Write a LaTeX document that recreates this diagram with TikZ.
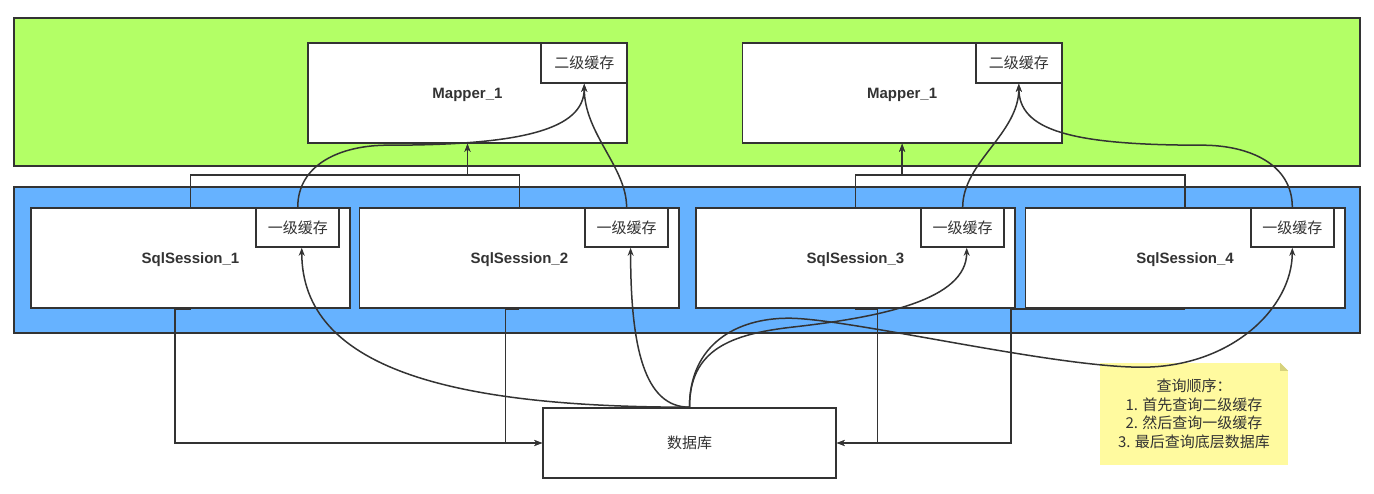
\documentclass[tikz,border=0pt]{standalone}
\usepackage{fontspec}
\setmainfont{Liberation Sans}
\newfontfamily\cjk{Noto Sans CJK SC}
\usepackage{tikz}
\usetikzlibrary{positioning}
\usetikzlibrary{calc}
\usetikzlibrary{arrows.meta}
\definecolor{linegray}{HTML}{333333}
\definecolor{mappergreen}{HTML}{B3FF66}
\definecolor{sessionblue}{HTML}{66B2FF}
\definecolor{notefill}{HTML}{FFFA9F}
\definecolor{foldfill}{HTML}{D6D27C}
\tikzstyle{layer} = [draw=linegray, line width=1.6pt, rectangle, minimum width=1346pt]
\tikzstyle{block} = [draw=linegray, fill=white, line width=1.6pt, rectangle, minimum height=100pt, minimum width=319.5pt, text=linegray, text height=11pt, text depth=0pt, font=\fontsize{15}{18}\selectfont\bfseries]
\tikzstyle{cache} = [draw=linegray, fill=white, line width=1.6pt, rectangle, minimum height=39pt, minimum width=83pt, anchor=north east, text=linegray, font=\fontsize{15}{18}\selectfont\cjk]
\tikzstyle{note} = [fill=notefill, rectangle, minimum width=188pt, minimum height=102pt, align=center, text=linegray, font=\fontsize{15}{18.5}\selectfont\cjk]
\tikzstyle{line} = [draw=linegray, line width=1.5pt]
\tikzstyle{arrow} = [line, -{Stealth[length=8pt,width=6pt]}]

\begin{document}
\begin{tikzpicture}[x=1pt,y=-1pt]
    \useasboundingbox (0,0) rectangle (1374,494);
    \node [layer, fill=mappergreen, minimum height=148pt] (mapperlayer) at (687,92) {};
    \node [layer, fill=sessionblue, minimum height=146pt] (sessionlayer) at (687,260) {};

    \node [block] (m1) at (467.5,93) {Mapper\_1};
    \node [block, right=113.5pt of m1] (m2) {Mapper\_1};
    \node [cache, minimum width=86pt, minimum height=40pt] (k1) at (m1.north east) {二级缓存};
    \node [cache, minimum width=86pt, minimum height=40pt] (k2) at (m2.north east) {二级缓存};

    \node [block] (s1) at (190.5,258) {SqlSession\_1};
    \node [block, right=7.75pt of s1] (s2) {SqlSession\_2};
    \node [block, right=15pt of s2] (s3) {SqlSession\_3};
    \node [block, right=8.5pt of s3] (s4) {SqlSession\_4};
    \node [cache] (c1) at ([xshift=-11]s1.north east) {一级缓存};
    \node [cache] (c2) at ([xshift=-11]s2.north east) {一级缓存};
    \node [cache] (c3) at ([xshift=-11]s3.north east) {一级缓存};
    \node [cache] (c4) at ([xshift=-11]s4.north east) {一级缓存};

    \node [block, minimum width=293pt, minimum height=70pt, text height=, text depth=, font=\fontsize{15}{18}\selectfont\cjk] (db) at (689.5,443) {数据库};

    \node [note] (order) at (1194,414) {查询顺序：\\1. 首先查询二级缓存\\2. 然后查询一级缓存\\3. 最后查询底层数据库};
    \fill [white] ([xshift=-8]order.north east) -- (order.north east) -- ([yshift=-8]order.north east) -- cycle;
    \fill [foldfill] ([xshift=-8]order.north east) -- ([yshift=-8]order.north east) -- ([xshift=-8,yshift=-8]order.north east) -- cycle;

    \coordinate (j1) at (m1.south |- 0,175);
    \coordinate (j2) at (m2.south |- 0,175);
    \draw [arrow] (s1.north) |- (j1) -- (m1.south);
    \draw [arrow] (s2.north) |- (j1) -- (m1.south);
    \draw [arrow] (s3.north) |- (j2) -- (m2.south);
    \draw [arrow] (s4.north) |- (j2) -- (m2.south);

    \draw [arrow] (s1.south) -- ++(-15.5,0) |- (db.west);
    \draw [arrow] (s2.south) -- ++(-14,0) |- (db.west);
    \draw [arrow] (s3.south) -- ++(22,0) |- (db.east);
    \draw [arrow] (s4.south) -- ++(-174,0) |- (db.east);

    \draw [arrow] (c1.north) .. controls +(0,-43) and +(-47,0) .. ++(90,-62) .. controls +(133,0) and +(0,46) .. (k1.south);
    \draw [arrow] (c2.north) .. controls +(0,-40) and +(0,50) .. (k1.south);
    \draw [arrow] (c3.north) .. controls +(0,-45) and +(0,50) .. (k2.south);
    \draw [arrow] (c4.north) .. controls +(0,-43) and +(47,0) .. ++(-90,-62) .. controls +(-133,0) and +(0,46) .. (k2.south);

    \draw [arrow] (db.north) .. controls +(-240,0) and +(0,120) .. ([xshift=4]c1.south);
    \draw [arrow] (db.north) .. controls +(-45,0) and +(0,100) .. ([xshift=4]c2.south);
    \draw [arrow] (db.north) .. controls +(0,-58) and +(-60,7) .. ++(102,-80) .. controls +(90,-10) and +(0,52) .. ([xshift=4]c3.south);
    \draw [arrow] (db.north) .. controls +(0,-63) and +(-52,0) .. ++(99,-89) .. controls +(60,0) and +(-90,0) .. ++(353,49) .. controls +(90,0) and +(0,60) .. (c4.south);
\end{tikzpicture}
\end{document}
